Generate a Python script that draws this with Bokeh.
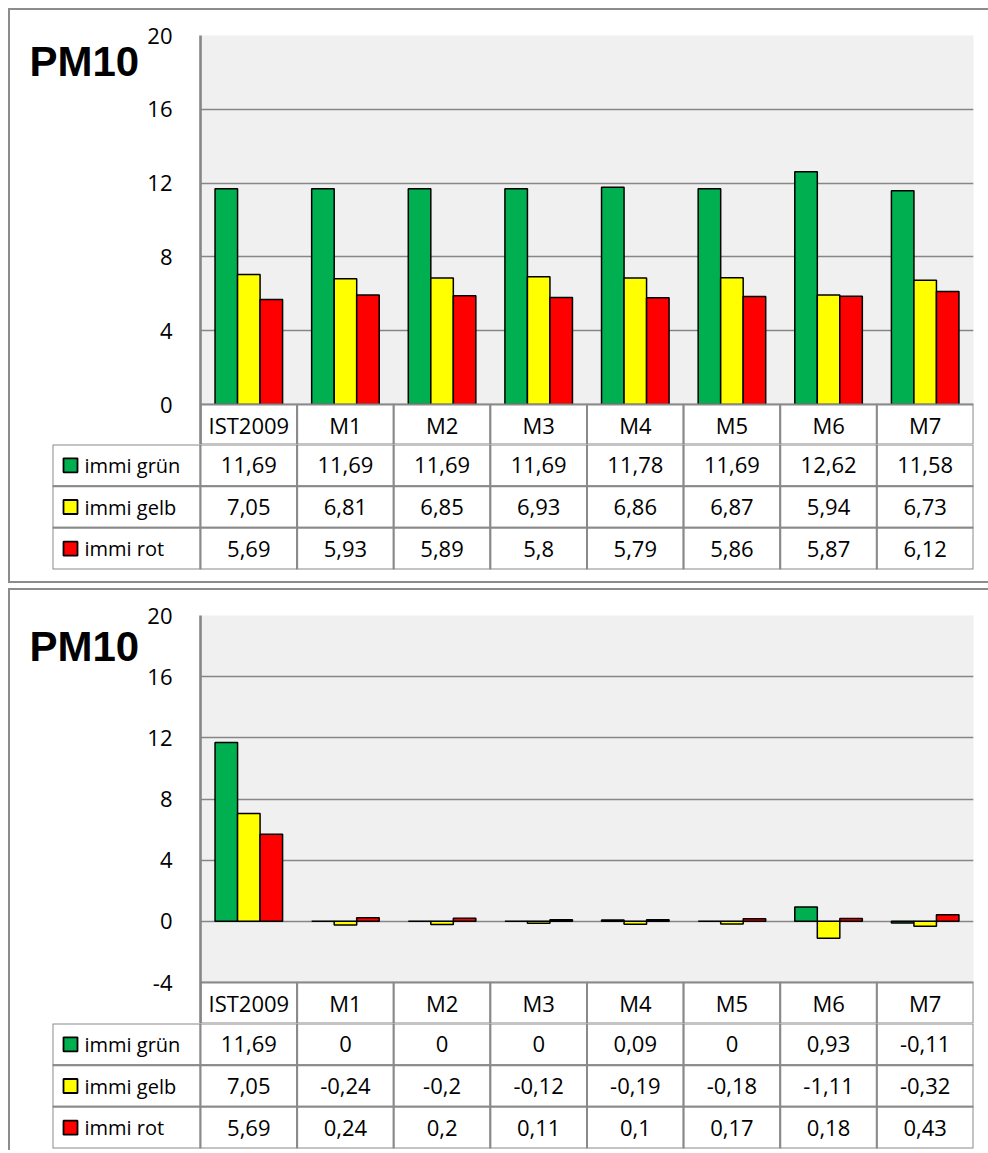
from bokeh.plotting import figure
from bokeh.models import Range1d, FactorRange, FixedTicker, Label, ColumnDataSource, Div
from bokeh.transform import dodge
from bokeh.layouts import column, row, Spacer
from bokeh.embed import file_html
from bokeh.resources import INLINE
from bokeh.core.properties import value

# ---------------- data ----------------
categories = ["IST2009", "M1", "M2", "M3", "M4", "M5", "M6", "M7"]
series_names = ["immi grün", "immi gelb", "immi rot"]
series_colors = ["#00b050", "#ffff00", "#ff0000"]

abs_gruen = [11.69, 11.69, 11.69, 11.69, 11.78, 11.69, 12.62, 11.58]
abs_gelb = [7.05, 6.81, 6.85, 6.93, 6.86, 6.87, 5.94, 6.73]
abs_rot = [5.69, 5.93, 5.89, 5.8, 5.79, 5.86, 5.87, 6.12]

diff_gruen = [11.69, 0, 0, 0, 0.09, 0, 0.93, -0.11]
diff_gelb = [7.05, -0.24, -0.2, -0.12, -0.19, -0.18, -1.11, -0.32]
diff_rot = [5.69, 0.24, 0.2, 0.11, 0.1, 0.17, 0.18, 0.43]

ticks_top = [0, 4, 8, 12, 16, 20]
ticks_bottom = [-4, 0, 4, 8, 12, 16, 20]
title_text = "PM10"

# ---------------- style ----------------
FONT = "Open Sans"
TITLE_FONT = "Liberation Sans"
GRID = "#868686"
TABLE_LINE = "#8a8a8a"
BORDER_COLOR = "#8c8c8c"
INNER_W = 976          # panel content width
TITLE_W = 130          # width of the title strip left of the chart
LEFT = 60              # chart border left of the plot area
RIGHT = 13
TOP = 25
FRAME_W = INNER_W - TITLE_W - LEFT - RIGHT
CW = FRAME_W / len(categories)   # px per category
LEG_PX = 148
BAR_W = 0.233


def fmt(v):
    return f"{v:g}".replace(".", ",")


def hline(w):
    return Div(text="", width=w, height=2, margin=0,
               styles={"background-color": BORDER_COLOR})


def vline(h):
    return Div(text="", width=2, height=h, margin=0,
               styles={"background-color": BORDER_COLOR})


def make_title(height, base):
    t = figure(width=TITLE_W, height=height, x_axis_location=None, y_axis_location=None,
               toolbar_location=None, output_backend="svg", min_border=0)
    t.background_fill_color = "white"
    t.border_fill_color = "white"
    t.outline_line_color = None
    t.grid.visible = False
    t.add_layout(Label(x=19, y=base, x_units="screen", y_units="screen",
                       text=title_text, text_font=TITLE_FONT, text_font_size="42px",
                       text_font_style="bold", text_color="black",
                       text_baseline="alphabetic"))
    return t


def make_chart(vals_list, ymin, ymax, ticks, chart_px, header_px):
    ppu = chart_px / (ymax - ymin)
    y_start = ymin - header_px / ppu
    p = figure(width=INNER_W - TITLE_W, height=TOP + chart_px + header_px,
               x_range=FactorRange(*categories), y_range=Range1d(y_start, ymax),
               x_axis_location=None, output_backend="svg", toolbar_location=None,
               min_border_left=LEFT, min_border_right=RIGHT, min_border_top=TOP,
               min_border_bottom=0)
    p.background_fill_color = "#f0f0f0"
    p.border_fill_color = "white"
    p.outline_line_color = None
    p.xgrid.visible = False
    p.ygrid.ticker = FixedTicker(ticks=ticks)
    p.ygrid.grid_line_color = GRID
    p.ygrid.grid_line_width = 1.6
    ax = p.yaxis[0]
    ax.ticker = FixedTicker(ticks=ticks)
    ax.major_label_overrides = {t: str(t) for t in ticks}
    ax.axis_line_color = GRID
    ax.axis_line_width = 2.6
    ax.major_tick_line_color = None
    ax.minor_tick_line_color = None
    ax.major_label_text_font = FONT
    ax.major_label_text_font_size = "22px"
    ax.major_label_text_color = "black"
    ax.major_label_standoff = 22

    offsets = [-BAR_W, 0, BAR_W]
    for vals, col, off in zip(vals_list, series_colors, offsets):
        src = ColumnDataSource(dict(x=categories, top=vals))
        p.vbar(x=dodge("x", off, range=p.x_range), top="top", bottom=0,
               width=BAR_W, source=src, fill_color=col, line_color="black",
               line_width=1.5)

    # header row of the data table (category names)
    hy = (ymin + y_start) / 2
    hh = ymin - y_start
    p.rect(x=categories, y=[hy] * len(categories), width=1, height=hh,
           fill_color="white", line_color=TABLE_LINE, line_width=2)
    p.text(x=categories, y=[hy] * len(categories), text=categories,
           text_font=value(FONT), text_font_size=value("22px"),
           text_align="center", text_baseline="middle", text_color="black")
    return p


def make_table(vals_list, rows_px, bottom_px):
    L = LEG_PX / CW
    p = figure(width=INNER_W, height=rows_px + bottom_px,
               x_range=Range1d(-L, len(categories)), y_range=Range1d(0, 3),
               x_axis_location=None, y_axis_location=None,
               output_backend="svg", toolbar_location=None,
               min_border_left=TITLE_W + LEFT - LEG_PX, min_border_right=RIGHT,
               min_border_top=0, min_border_bottom=bottom_px)
    p.background_fill_color = "white"
    p.border_fill_color = "white"
    p.outline_line_color = None
    p.grid.visible = False
    xs = [i + 0.5 for i in range(len(categories))]
    for r, (vals, name, col) in enumerate(zip(vals_list, series_names, series_colors)):
        yc = 2.5 - r
        p.rect(x=[-L / 2], y=[yc], width=L, height=1, fill_color="white",
               line_color=TABLE_LINE, line_width=2)
        p.rect(x=xs, y=[yc] * len(xs), width=1, height=1, fill_color="white",
               line_color=TABLE_LINE, line_width=2)
        p.text(x=xs, y=[yc] * len(xs), text=[fmt(v) for v in vals],
               text_font=value(FONT), text_font_size=value("22px"),
               text_align="center", text_baseline="middle", text_color="black")
        p.scatter(x=[-L + 18 / CW], y=[yc], marker="square", size=14,
                  fill_color=col, line_color="black", line_width=1.8)
        p.text(x=[-L + 32 / CW], y=[yc], text=[name],
               text_font=value(FONT), text_font_size=value("20px"),
               text_align="left", text_baseline="middle", text_color="black")
    return p


chart1 = make_chart([abs_gruen, abs_gelb, abs_rot], 0, 20, ticks_top, 369, 40)
title1 = make_title(chart1.height, 383)
table1 = make_table([abs_gruen, abs_gelb, abs_rot], 125, 12)

chart2 = make_chart([diff_gruen, diff_gelb, diff_rot], -4, 20, ticks_bottom, 367, 41)
title2 = make_title(chart2.height, 377)
table2 = make_table([diff_gruen, diff_gelb, diff_rot], 125, 2)

inner1 = column(row(title1, chart1), table1)
inner2 = column(row(title2, chart2), table2)
h1 = chart1.height + table1.height
h2 = chart2.height + table2.height

LINE_W = INNER_W + 4
panel1 = column(hline(LINE_W), row(vline(h1), inner1), hline(LINE_W))
panel2 = column(hline(LINE_W), row(vline(h2), inner2))
body = column(Spacer(width=LINE_W, height=8), panel1,
              Spacer(width=LINE_W, height=5), panel2)
page = row(Spacer(width=8, height=10), body)

open("out.html", "w").write(file_html(page, INLINE))
